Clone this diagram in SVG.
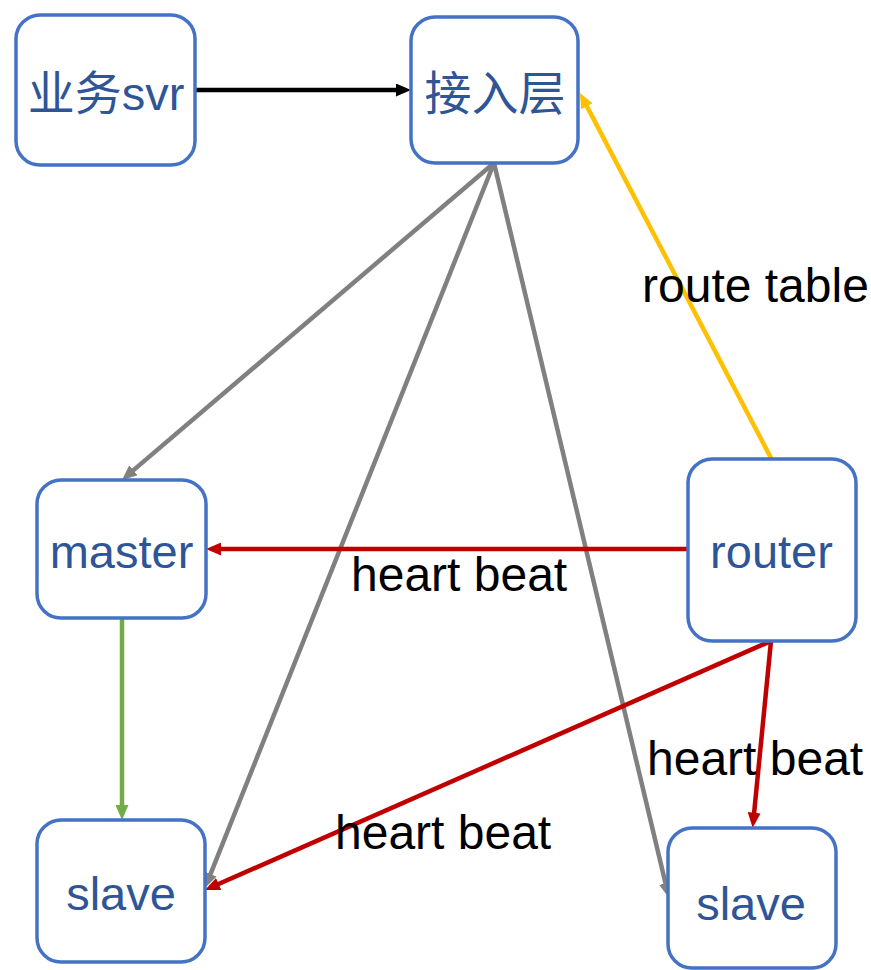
<svg xmlns="http://www.w3.org/2000/svg" width="871" height="970" viewBox="0 0 871 970">
<style>
.node rect{fill:#fff;stroke:#4472C4;stroke-width:3.5}
.node text{font-family:"Liberation Sans","Noto Sans CJK SC",Arial,sans-serif;font-size:47px;fill:#2F5597;text-anchor:middle}
.lbl{font-family:"Liberation Sans",Arial,sans-serif;font-size:48px;fill:#000}
.c{fill:none;stroke-width:4.5}
</style>
<defs>
<marker id="aK" markerUnits="userSpaceOnUse" viewBox="0 0 15 13" markerWidth="15" markerHeight="13" refX="9.5" refY="6.5" orient="auto"><path d="M0,0 L15,6.5 L0,13 z" fill="#000"/></marker>
<marker id="aG" markerUnits="userSpaceOnUse" viewBox="0 0 15 13" markerWidth="15" markerHeight="13" refX="9.5" refY="6.5" orient="auto"><path d="M0,0 L15,6.5 L0,13 z" fill="#808080"/></marker>
<marker id="aY" markerUnits="userSpaceOnUse" viewBox="0 0 15 13" markerWidth="15" markerHeight="13" refX="9.5" refY="6.5" orient="auto"><path d="M0,0 L15,6.5 L0,13 z" fill="#FFC000"/></marker>
<marker id="aR" markerUnits="userSpaceOnUse" viewBox="0 0 15 13" markerWidth="15" markerHeight="13" refX="9.5" refY="6.5" orient="auto"><path d="M0,0 L15,6.5 L0,13 z" fill="#C00000"/></marker>
<marker id="aV" markerUnits="userSpaceOnUse" viewBox="0 0 15 13" markerWidth="15" markerHeight="13" refX="9.5" refY="6.5" orient="auto"><path d="M0,0 L15,6.5 L0,13 z" fill="#70AD47"/></marker>
</defs>
<g id="connectors">
<line class="c" x1="195" y1="90" x2="405.5" y2="90" stroke="#000" marker-end="url(#aK)"/>
<line class="c" x1="494" y1="163" x2="126.2" y2="476.4" stroke="#808080" marker-end="url(#aG)"/>
<line class="c" x1="494" y1="163" x2="207" y2="882.9" stroke="#808080" marker-end="url(#aG)"/>
<line class="c" x1="494" y1="163" x2="667.7" y2="892.6" stroke="#808080" marker-end="url(#aG)"/>
<line class="c" x1="772" y1="460" x2="582.5" y2="97.9" stroke="#FFC000" marker-end="url(#aY)"/>
<line class="c" x1="688" y1="549" x2="211.5" y2="549" stroke="#C00000" marker-end="url(#aR)"/>
<line class="c" x1="771" y1="641" x2="210" y2="887.8" stroke="#C00000" marker-end="url(#aR)"/>
<line class="c" x1="771" y1="641" x2="753.2" y2="822.2" stroke="#C00000" marker-end="url(#aR)"/>
<line class="c" x1="122" y1="619" x2="122" y2="814.5" stroke="#70AD47" marker-end="url(#aV)"/>
</g>
<g id="svr" class="node"><rect x="16" y="15" width="179" height="150" rx="24"/><text x="106" y="110">业务svr</text></g>
<g id="access" class="node"><rect x="411" y="17" width="167" height="146" rx="24"/><text x="495" y="110">接入层</text></g>
<g id="master" class="node"><rect x="37" y="480" width="169" height="138" rx="24"/><text x="121.5" y="568">master</text></g>
<g id="router" class="node"><rect x="688" y="459" width="168" height="182" rx="24"/><text x="771.5" y="568">router</text></g>
<g id="slave1" class="node"><rect x="37" y="820" width="168" height="142" rx="24"/><text x="121" y="910">slave</text></g>
<g id="slave2" class="node"><rect x="668" y="828" width="168" height="140" rx="24"/><text x="751" y="920">slave</text></g>
<g id="labels">
<text class="lbl" x="642" y="302">route table</text>
<text class="lbl" x="351" y="591">heart beat</text>
<text class="lbl" x="647" y="775">heart beat</text>
<text class="lbl" x="335" y="849">heart beat</text>
</g>
</svg>
